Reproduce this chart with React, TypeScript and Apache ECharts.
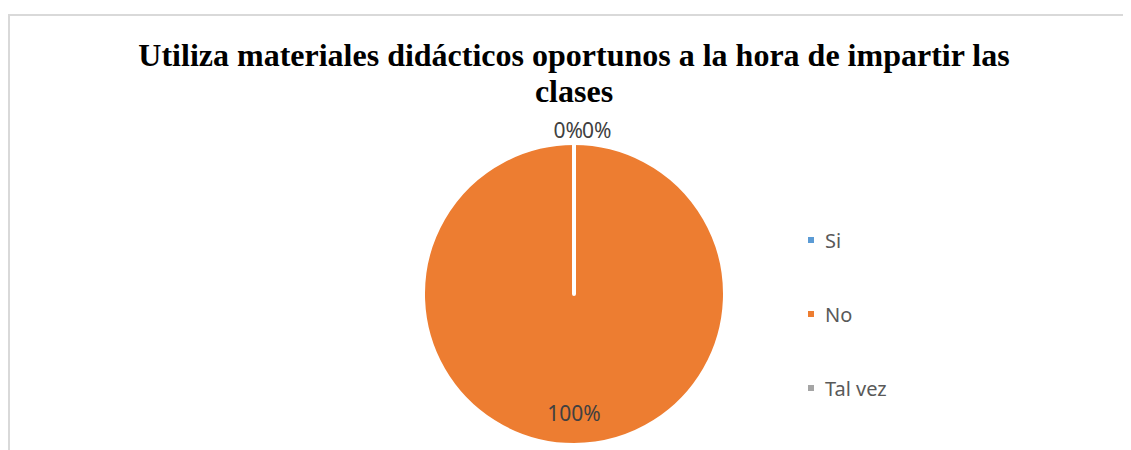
import React, { useEffect, useRef } from "react";
import * as echarts from "echarts";

const titleLines = [
  "Utiliza materiales didácticos oportunos a la hora de impartir las",
  "clases",
];
const categories = ["Si", "No", "Tal vez"];
const values = [0, 100, 0];
const colors = ["#5b9bd5", "#ed7d31", "#a5a5a5"];

export default function App() {
  const ref = useRef<HTMLDivElement>(null);
  useEffect(() => {
    document.body.style.overflow = "hidden";
    const chart = echarts.init(ref.current!, undefined, { renderer: "svg" });
    chart.setOption({
      animation: false,
      backgroundColor: "#ffffff",
      title: {
        text: titleLines.join("\n"),
        left: 559,
        textAlign: "center",
        top: 16,
        textStyle: {
          fontFamily: "Liberation Serif",
          fontWeight: "bold",
          fontSize: 32,
          lineHeight: 36,
          color: "#000000",
        },
      },
      legend: {
        orient: "vertical",
        left: 791,
        top: 209,
        itemWidth: 8,
        itemHeight: 8,
        itemGap: 54,
        icon: "rect",
        data: categories,
        textStyle: {
          fontFamily: "Noto Sans",
          fontSize: 20,
          color: "#595959",
          padding: [0, 0, 0, 5],
        },
      },
      series: [
        {
          type: "pie",
          center: [564, 278],
          radius: 151,
          startAngle: 90,
          clockwise: true,
          avoidLabelOverlap: false,
          itemStyle: { borderColor: "#ffffff", borderWidth: 4 },
          label: {
            show: true,
            position: "outside",
            formatter: "{d}%",
            fontFamily: "Noto Sans",
            fontSize: 21,
            color: "#404040",
          },
          labelLine: { show: false, length: 12, length2: 0 },
          labelLayout: (p: any) => {
            if (p.dataIndex === 1) return { dy: 40 };
            return p.labelRect.x < 560 ? { dx: 14, dy: -1 } : { dx: 3, dy: -1 };
          },
          data: categories.map((name, i) => ({
            name,
            value: values[i],
            itemStyle: { color: colors[i] },
            label: i === 1 ? { position: "inside" } : undefined,
          })),
        },
      ],
    });
    return () => chart.dispose();
  }, []);
  return (
    <div
      style={{
        marginTop: 6,
        width: 1121,
        height: 434,
        borderLeft: "2px solid #d9d9d9",
        borderTop: "2px solid #d9d9d9",
      }}
    >
      <div ref={ref} style={{ width: 1121, height: 434 }} />
    </div>
  );
}
